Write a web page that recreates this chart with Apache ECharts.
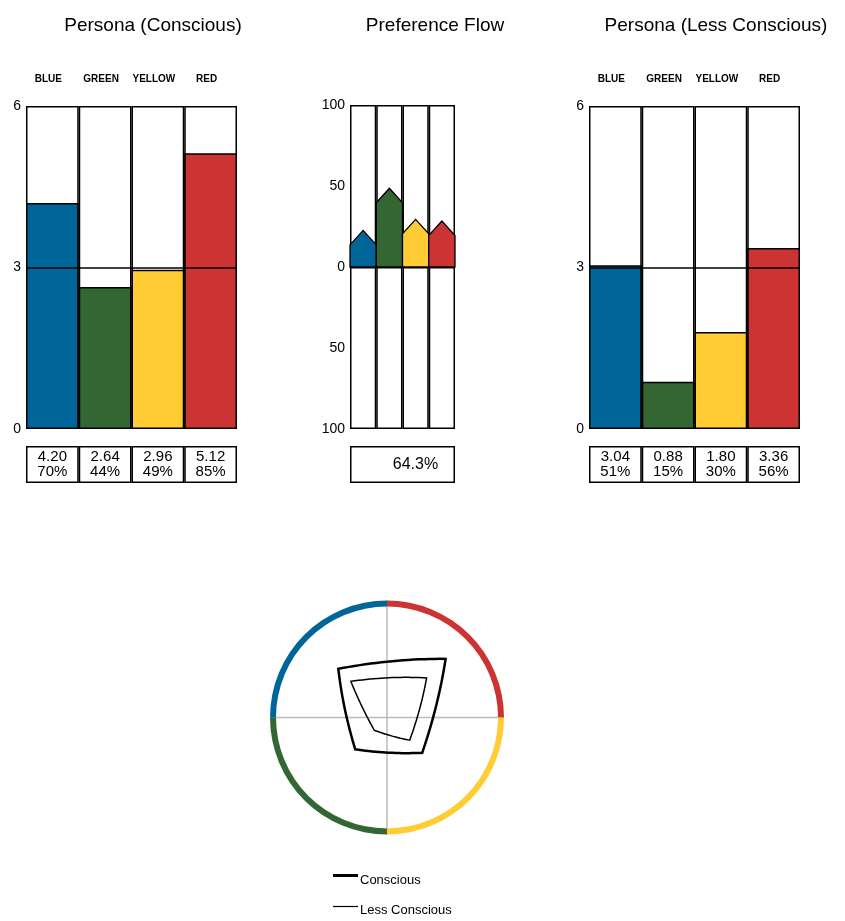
<!DOCTYPE html>
<html>
<head>
<meta charset="utf-8">
<script src="https://cdn.jsdelivr.net/npm/echarts@6/dist/echarts.min.js"></script>
<style>
html, body { margin: 0; padding: 0; background: #fff; }
#main { width: 845px; height: 921px; }
</style>
</head>
<body>
<div id="main"></div>
<script>
// data
const categories = ['BLUE', 'GREEN', 'YELLOW', 'RED']
const colors = ['#006699', '#336633', '#FFCC33', '#CC3333']
const consciousValues = [4.20, 2.64, 2.96, 5.12]
const lessConsciousValues = [3.04, 0.88, 1.80, 3.36]
const flowValues = [22.6, 48.6, 29.4, 28.4]
const flowScore = '64.3%'
const personaMax = 6
const flowMax = 100
// where each colour sits on the wheel (0 = top, clockwise)
const quadrantAngle = [315, 225, 135, 45]

const font = '"Liberation Sans", Arial, sans-serif'
const wheelCenter = [387, 717.5]
const chart = echarts.init(document.getElementById('main'))

function catAxis(grid, show) {
    return {
        type: 'category', gridIndex: grid, data: categories, position: 'top',
        axisLine: { show: false }, axisTick: { show: false },
        axisLabel: { show: show, interval: 0, hideOverlap: false, fontSize: 10, fontWeight: 'bold', color: '#000', margin: 22, padding: [0, 8, 0, 0], fontFamily: font }
    }
}
function cellAxis(grid, n) {
    return { type: 'category', gridIndex: grid, data: n, show: false }
}

function personaSeries(xi, yi, values) {
    return [
        {
            type: 'bar', xAxisIndex: xi, yAxisIndex: yi, silent: true, z: 1,
            data: categories.map(() => personaMax),
            barWidth: '100%', barGap: '-100%',
            itemStyle: { color: '#fff', borderColor: '#000', borderWidth: 1.5 }
        },
        {
            type: 'bar', xAxisIndex: xi, yAxisIndex: yi, silent: true, z: 2,
            data: values.map((v, i) => ({ value: v, itemStyle: { color: colors[i] } })),
            barWidth: '100%', barGap: '-100%',
            itemStyle: { borderColor: '#000', borderWidth: 1.5 },
            markLine: {
                silent: true, symbol: 'none', label: { show: false },
                lineStyle: { color: '#000', width: 1.5, type: 'solid' },
                data: [{ yAxis: personaMax / 2 }]
            }
        },
        {
            type: 'bar', xAxisIndex: xi + 1, yAxisIndex: yi + 1, silent: true,
            data: categories.map(() => 1), barWidth: '100%',
            itemStyle: { color: '#fff', borderColor: '#000', borderWidth: 1.5 },
            label: {
                show: true, position: 'inside', color: '#000', fontSize: 15, lineHeight: 15.5,
                fontFamily: font, textBorderWidth: 0,
                formatter: p => values[p.dataIndex].toFixed(2) + '\n' + Math.round(values[p.dataIndex] / personaMax * 100) + '%'
            }
        }
    ]
}

// closed outline through the four wheel points, edges bowed slightly outwards
function shapeSeries(name, values, width) {
    const order = [0, 1, 2, 3].sort((a, b) => quadrantAngle[a] - quadrantAngle[b])
    return {
        type: 'custom', name: name, coordinateSystem: 'polar', silent: true, z: 5,
        data: order.map(i => [values[i], quadrantAngle[i]]),
        renderItem: (params, api) => {
            if (params.dataIndex !== 0) return { type: 'group', children: [] }
            const verts = order.map(i => api.coord([values[i], quadrantAngle[i]]))
            const pts = []
            for (let k = 0; k < verts.length; k++) {
                const p0 = verts[k], p1 = verts[(k + 1) % verts.length]
                const mx = (p0[0] + p1[0]) / 2, my = (p0[1] + p1[1]) / 2
                const chord = Math.hypot(p1[0] - p0[0], p1[1] - p0[1])
                const dx = mx - wheelCenter[0], dy = my - wheelCenter[1]
                const d = Math.hypot(dx, dy) || 1
                const off = 2 * 0.025 * chord
                const cx = mx + dx / d * off, cy = my + dy / d * off
                for (let s = 0; s < 20; s++) {
                    const t = s / 20, u = 1 - t
                    pts.push([u * u * p0[0] + 2 * u * t * cx + t * t * p1[0], u * u * p0[1] + 2 * u * t * cy + t * t * p1[1]])
                }
            }
            return {
                type: 'polygon', shape: { points: pts },
                style: { fill: 'none', stroke: '#000', lineWidth: width, lineJoin: 'miter' }
            }
        }
    }
}

const ringOrder = [0, 1, 2, 3].sort((a, b) => quadrantAngle[a] - quadrantAngle[b])
const valueLabel = { color: '#000', fontSize: 14, fontFamily: font }

const option = {
    animation: false,
    backgroundColor: '#fff',
    textStyle: { fontFamily: font },
    grid: [
        { left: 26, top: 106, width: 211, height: 323 },
        { left: 26, top: 446, width: 211, height: 37 },
        { left: 350, top: 105, width: 105, height: 324 },
        { left: 350, top: 446, width: 105, height: 37 },
        { left: 589, top: 106, width: 211, height: 323 },
        { left: 589, top: 446, width: 211, height: 37 }
    ],
    xAxis: [
        catAxis(0, true),
        cellAxis(1, categories),
        catAxis(2, false),
        cellAxis(3, ['score']),
        catAxis(4, true),
        cellAxis(5, categories)
    ],
    yAxis: [
        {
            type: 'value', gridIndex: 0, min: 0, max: personaMax, interval: personaMax / 2,
            axisLine: { show: false }, axisTick: { show: false }, splitLine: { show: false },
            axisLabel: { ...valueLabel, margin: 5 }
        },
        { type: 'value', gridIndex: 1, min: 0, max: 1, show: false },
        {
            type: 'value', gridIndex: 2, min: -flowMax, max: flowMax, interval: flowMax / 2,
            axisLine: { show: false }, axisTick: { show: false }, splitLine: { show: false },
            axisLabel: { ...valueLabel, margin: 5, formatter: v => Math.abs(v) }
        },
        { type: 'value', gridIndex: 3, min: 0, max: 1, show: false },
        {
            type: 'value', gridIndex: 4, min: 0, max: personaMax, interval: personaMax / 2,
            axisLine: { show: false }, axisTick: { show: false }, splitLine: { show: false },
            axisLabel: { ...valueLabel, margin: 5 }
        },
        { type: 'value', gridIndex: 5, min: 0, max: 1, show: false }
    ],
    polar: { center: wheelCenter, radius: 117 },
    angleAxis: {
        type: 'value', min: 0, max: 360, interval: 90, startAngle: 90, clockwise: true,
        axisLine: { show: false }, axisTick: { show: false }, axisLabel: { show: false },
        splitLine: { show: true, lineStyle: { color: '#bbb', width: 1.5 } }
    },
    radiusAxis: {
        type: 'value', min: -0.3, max: 7.35,
        axisLine: { show: false }, axisTick: { show: false }, axisLabel: { show: false },
        splitLine: { show: false }
    },
    graphic: [
        { type: 'text', x: 153, y: 26, style: { text: 'Persona (Conscious)', font: '19px ' + font, fill: '#000', textAlign: 'center', textVerticalAlign: 'middle' } },
        { type: 'text', x: 435, y: 26, style: { text: 'Preference Flow', font: '19px ' + font, fill: '#000', textAlign: 'center', textVerticalAlign: 'middle' } },
        { type: 'text', x: 716, y: 26, style: { text: 'Persona (Less Conscious)', font: '19px ' + font, fill: '#000', textAlign: 'center', textVerticalAlign: 'middle' } },
        { type: 'line', shape: { x1: 333, y1: 875.5, x2: 358, y2: 875.5 }, style: { stroke: '#000', lineWidth: 3 } },
        { type: 'text', x: 360, y: 880.5, style: { text: 'Conscious', font: '13px ' + font, fill: '#000', textVerticalAlign: 'middle' } },
        { type: 'line', shape: { x1: 333, y1: 906.5, x2: 358, y2: 906.5 }, style: { stroke: '#000', lineWidth: 1.2 } },
        { type: 'text', x: 360, y: 910, style: { text: 'Less Conscious', font: '13px ' + font, fill: '#000', textVerticalAlign: 'middle' } }
    ],
    series: [
        ...personaSeries(0, 0, consciousValues),
        {
            type: 'bar', xAxisIndex: 2, yAxisIndex: 2, stack: 'bg', silent: true, z: 1,
            data: categories.map(() => flowMax), barWidth: '100%',
            itemStyle: { color: '#fff', borderColor: '#000', borderWidth: 1.5 }
        },
        {
            type: 'bar', xAxisIndex: 2, yAxisIndex: 2, stack: 'bg', silent: true, z: 1,
            data: categories.map(() => -flowMax), barWidth: '100%',
            itemStyle: { color: '#fff', borderColor: '#000', borderWidth: 1.5 }
        },
        {
            type: 'custom', xAxisIndex: 2, yAxisIndex: 2, silent: true, z: 3,
            data: flowValues.map((v, i) => [i, v]),
            renderItem: (params, api) => {
                const i = api.value(0)
                const base = api.coord([i, 0])
                const top = api.coord([i, api.value(1)])
                const w = api.size([1, 0])[0]
                const l = base[0] - w / 2, r = base[0] + w / 2
                const shoulder = top[1] + 14.5
                return {
                    type: 'polygon',
                    shape: { points: [[l, base[1]], [l, shoulder], [base[0], top[1]], [r, shoulder], [r, base[1]]] },
                    style: { fill: colors[params.dataIndex], stroke: '#000', lineWidth: 1.3 }
                }
            }
        },
        {
            type: 'bar', xAxisIndex: 3, yAxisIndex: 3, silent: true,
            data: [1], barWidth: '100%',
            itemStyle: { color: '#fff', borderColor: '#000', borderWidth: 1.5 },
            label: {
                show: true, position: 'inside', color: '#000', fontSize: 16, fontFamily: font,
                textBorderWidth: 0, offset: [13, 0], formatter: () => flowScore
            }
        },
        ...personaSeries(4, 4, lessConsciousValues),
        {
            type: 'pie', center: wheelCenter, radius: [111, 117], startAngle: 90, clockwise: true,
            silent: true, label: { show: false }, labelLine: { show: false },
            data: ringOrder.map(i => ({ value: 1, name: categories[i], itemStyle: { color: colors[i], borderWidth: 0 } }))
        },
        shapeSeries('Conscious', consciousValues, 2.5),
        shapeSeries('Less Conscious', lessConsciousValues, 1.5)
    ]
}

chart.setOption(option)
</script>
</body>
</html>
